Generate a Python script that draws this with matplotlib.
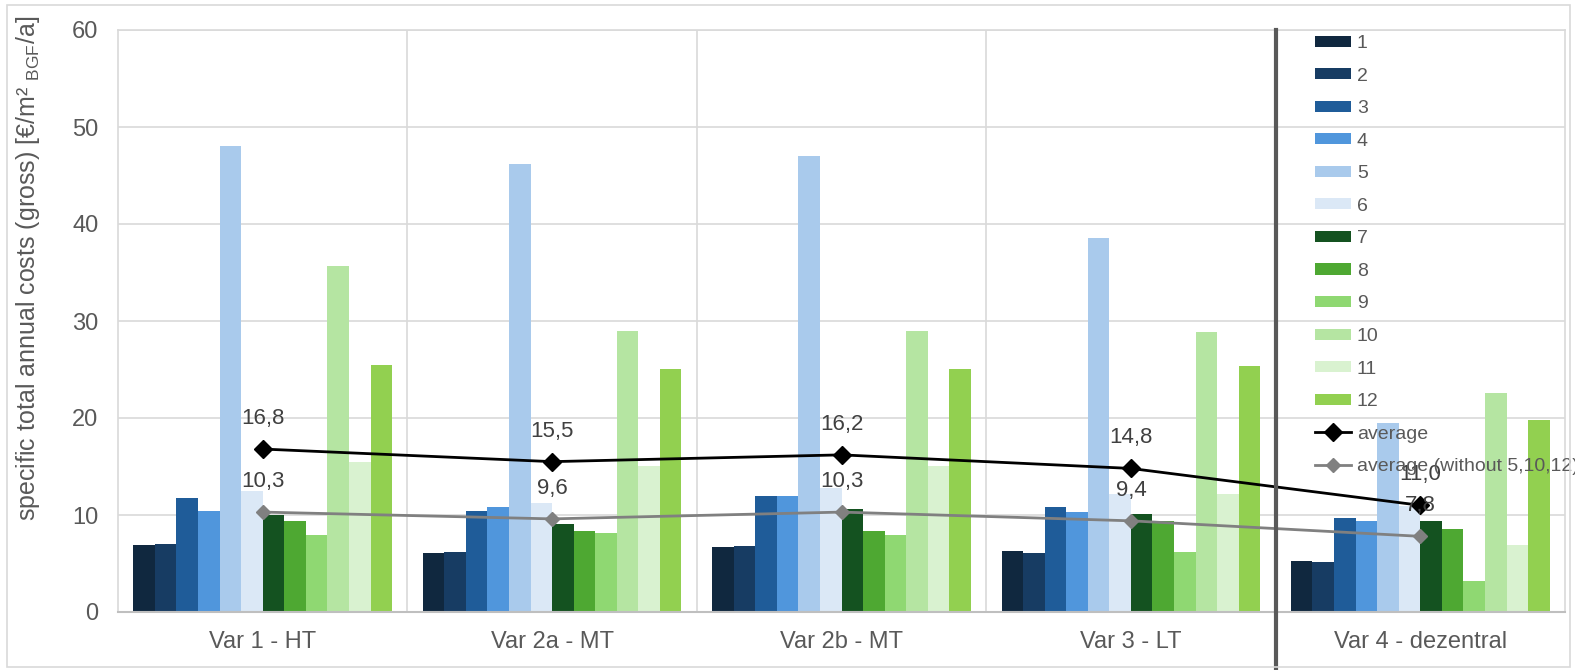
import matplotlib
matplotlib.use("Agg")
import matplotlib.pyplot as plt
import numpy as np
from matplotlib.patches import Rectangle

plt.rcParams['font.family'] = ['Liberation Sans', 'DejaVu Sans']

categories = ["Var 1 - HT", "Var 2a - MT", "Var 2b - MT", "Var 3 - LT", "Var 4 - dezentral"]
series_names = ["1", "2", "3", "4", "5", "6", "7", "8", "9", "10", "11", "12"]
# values[series][category]
s1 = [6.9, 6.1, 6.7, 6.3, 5.3]
s2 = [7.0, 6.2, 6.8, 6.1, 5.2]
s3 = [11.8, 10.4, 12.0, 10.8, 9.7]
s4 = [10.4, 10.8, 12.0, 10.3, 9.4]
s5 = [48.0, 46.2, 47.0, 38.6, 19.5]
s6 = [12.5, 11.2, 12.8, 12.2, 10.9]
s7 = [10.0, 9.1, 10.6, 10.1, 9.4]
s8 = [9.4, 8.3, 8.3, 9.4, 8.6]
s9 = [7.9, 8.1, 7.9, 6.2, 3.2]
s10 = [35.7, 29.0, 29.0, 28.9, 22.6]
s11 = [15.5, 15.1, 15.1, 12.2, 6.9]
s12 = [25.5, 25.1, 25.1, 25.4, 19.8]
series = [s1, s2, s3, s4, s5, s6, s7, s8, s9, s10, s11, s12]
average = [16.8, 15.5, 16.2, 14.8, 11.0]
average_wo = [10.3, 9.6, 10.3, 9.4, 7.8]
avg_labels = ["16,8", "15,5", "16,2", "14,8", "11,0"]
avg_wo_labels = ["10,3", "9,6", "10,3", "9,4", "7,8"]

colors = ["#10283f", "#173c63", "#1f5c99", "#5096dc", "#a9caec", "#dbe8f6",
          "#145220", "#4ea832", "#8fd872", "#b5e5a2", "#d9f2d0", "#92d050"]

W, H = 1575, 670
fig = plt.figure(figsize=(W / 100, H / 100), dpi=100)
ax = fig.add_axes([118 / W, 1 - 612 / H, (1565 - 118) / W, (612 - 30) / H])

x = np.arange(len(categories))
bw = 0.0745
handles = []
for j, (vals, c, name) in enumerate(zip(series, colors, series_names)):
    h = ax.bar(x + (j - 5.5) * bw, vals, width=bw, color=c, label=name, zorder=2)
    handles.append(h)

l1, = ax.plot(x, average, color="black", lw=2, marker="D", ms=9, label="average", zorder=4)
l2, = ax.plot(x, average_wo, color="#808080", lw=2, marker="D", ms=7,
              label="average (without 5,10,12)", zorder=4)
handles += [l1, l2]

for xi, v, t in zip(x, average, avg_labels):
    ax.annotate(t, (xi, v), xytext=(0, 22), textcoords="offset points",
                ha="center", va="center", fontsize=16, color="#404040", zorder=5)
for xi, v, t in zip(x, average_wo, avg_wo_labels):
    ax.annotate(t, (xi, v), xytext=(0, 22), textcoords="offset points",
                ha="center", va="center", fontsize=16, color="#404040", zorder=5)

ax.set_xlim(-0.5, len(categories) - 0.5)
ax.set_ylim(0, 60)
ax.set_yticks(np.arange(0, 61, 10))
ax.set_xticks(x)
ax.set_xticklabels(categories)
ax.tick_params(axis="both", length=0, labelsize=17, colors="#595959")
ax.tick_params(axis="y", pad=14)
ax.tick_params(axis="x", pad=14)
ax.grid(axis="y", color="#d9d9d9", lw=1.2, zorder=0)
for b in [0.5, 1.5, 2.5]:
    ax.axvline(b, color="#d9d9d9", lw=1.2, zorder=0)
ax.axvline(3.5, ymin=-0.1, ymax=1, color="#595959", lw=3, zorder=6, clip_on=False)
for sp in ["top", "right", "left"]:
    ax.spines[sp].set_color("#d9d9d9")
    ax.spines[sp].set_linewidth(1.2)
ax.spines["bottom"].set_color("#bfbfbf")
ax.spines["bottom"].set_linewidth(1.5)

ax.set_ylabel("specific total annual costs (gross) [€/m² $_{\\mathregular{BGF}}$/a]",
              fontsize=18, color="#595959")
ax.yaxis.set_label_coords(-0.0525, 0.59)

leg = ax.legend(handles=handles, loc="upper left", bbox_to_anchor=(1315 / W, 1 - 35 / H),
                bbox_transform=fig.transFigure, frameon=False, fontsize=14,
                labelspacing=0.8, handlelength=1.85, handletextpad=0.3,
                handleheight=0.5, borderpad=0, borderaxespad=0)
for t in leg.get_texts():
    t.set_color("#595959")

fig.patches.append(Rectangle((7 / W, 3 / H), (1570 - 7) / W, (665 - 3) / H,
                             transform=fig.transFigure, fill=False,
                             edgecolor="#d9d9d9", lw=1.2))

fig.savefig("out.png", dpi=100)
